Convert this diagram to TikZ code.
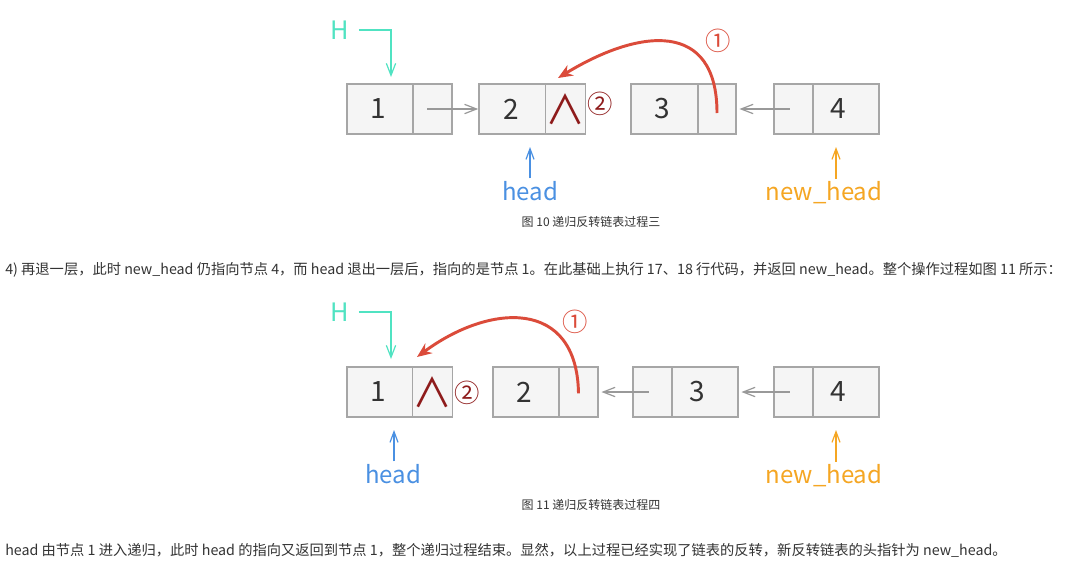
\documentclass[tikz,border=0pt]{standalone}
\usepackage{fontspec}
\setmainfont{Noto Sans CJK SC}
\usetikzlibrary{arrows.meta}
\definecolor{boxfill}{HTML}{F5F5F5}
\definecolor{boxgray}{HTML}{A6A6A6}
\definecolor{digit}{HTML}{333333}
\definecolor{ptrgray}{HTML}{999999}
\definecolor{hteal}{HTML}{50E3C2}
\definecolor{hblue}{HTML}{4A90E2}
\definecolor{horange}{HTML}{F5A623}
\definecolor{cred}{HTML}{DB4B3A}
\definecolor{nilred}{HTML}{8E1B1B}
\definecolor{bodytext}{HTML}{333333}
\tikzset{
  cell/.style={draw=boxgray, fill=boxfill, line width=1.2pt, minimum height=37.5pt, inner sep=0pt, text=digit, font=\fontsize{21}{21}\selectfont},
  nilcell/.style={cell, text=nilred, font=\fontsize{30}{30}\selectfont},
  htxt/.style={inner sep=1pt, text=hteal, font=\fontsize{19}{19}\selectfont},
  headtxt/.style={inner sep=2pt, text=hblue, font=\fontsize{18}{18}\selectfont},
  newheadtxt/.style={inner sep=2pt, text=horange, font=\fontsize{18}{18}\selectfont},
  circone/.style={inner sep=0pt, text=cred, font=\fontsize{19}{19}\selectfont},
  circtwo/.style={inner sep=0pt, text=nilred, font=\fontsize{19}{19}\selectfont},
  ptr/.style={draw=ptrgray, line width=0.9pt, -{Straight Barb[length=9pt,width=7pt]}},
  tealarrow/.style={draw=hteal, line width=0.9pt, -{Straight Barb[length=9pt,width=7pt]}},
  bluearrow/.style={draw=hblue, line width=0.9pt, -{Straight Barb[length=8pt,width=6pt]}},
  orangearrow/.style={draw=horange, line width=0.9pt, -{Straight Barb[length=8pt,width=6pt]}},
  redarrow/.style={draw=cred, line width=2.2pt, -{Stealth[length=11pt,width=9pt]}},
  caption/.style={inner sep=0pt, text=bodytext, font=\fontsize{9}{9}\selectfont},
  para/.style={inner sep=0pt, anchor=west, text=bodytext, font=\fontsize{10.7}{10.7}\selectfont},
}
\begin{document}
\begin{tikzpicture}[x=0.75pt,y=-0.75pt]
\useasboundingbox[fill=white] (0,0) rectangle (1080,568);

% ---------- Figure 10 ----------
\node[cell, minimum width=49.5pt] (a1d) at (380,109) {1\kern3pt};
\node[cell, minimum width=29.25pt] (a1p) at (432.5,109) {};
\node[cell, minimum width=51pt] (a2d) at (513,109) {2\kern3pt};
\node[nilcell, minimum width=27.75pt] (a2p) at (565.5,109) {∧};
\node[cell, minimum width=50.25pt] (a3d) at (664.5,109) {3\kern3pt};
\node[cell, minimum width=28.5pt] (a3p) at (717,109) {};
\node[cell, minimum width=29.25pt] (a4p) at (793.5,109) {};
\node[cell, minimum width=49.5pt] (a4d) at (846,109) {4\kern11pt};

\node[htxt] (aH) at (340,30) {H};
\node[circone] (aone) at (718,41) {①};
\node[circtwo] (atwo) at (600,104) {②};
\node[headtxt] (ahead) at (530,191) {head};
\node[newheadtxt] (anew) at (824,193) {new\_head};

\coordinate (aHend) at (391,77);
\coordinate (aheadend) at (530,147);
\coordinate (anewend) at (836,147);
\coordinate (aRend) at (558,78);

\draw[tealarrow] ([xshift=6pt]aH.east) -| (aHend);
\draw[ptr] ([xshift=-4pt]a1p.center) -- (a2d.west);
\draw[ptr, shorten >=2pt] ([xshift=-3pt]a4p.center) -- (a3p.east);
\draw[redarrow] ([yshift=-3pt]a3p.center) .. controls (717,20) and (640,28) .. (aRend);
\draw[bluearrow] (ahead.north) -- (aheadend);
\draw[orangearrow] (anew.north -| anewend) -- (anewend);

\node[caption] (cap1) at (591,222) {图 10 递归反转链表过程三};
\node[para] (p1) at (5,270) {4) 再退一层，此时 new\_head 仍指向节点 4，而 head 退出一层后，指向的是节点 1。在此基础上执行 17、18 行代码，并返回 new\_head。整个操作过程如图 11 所示：};

% ---------- Figure 11 ----------
\node[cell, minimum width=49.5pt] (b1d) at (380,392) {1\kern3pt};
\node[nilcell, minimum width=29.25pt] (b1p) at (432.5,392) {∧};
\node[cell, minimum width=49.5pt] (b2d) at (526,392) {2\kern3pt};
\node[cell, minimum width=29.25pt] (b2p) at (578.5,392) {};
\node[cell, minimum width=29.25pt] (b3p) at (652.5,392) {};
\node[cell, minimum width=49.5pt] (b3d) at (705,392) {3\kern11pt};
\node[cell, minimum width=29.25pt] (b4p) at (793.5,392) {};
\node[cell, minimum width=49.5pt] (b4d) at (846,392) {4\kern11pt};

\node[htxt] (bH) at (340,312) {H};
\node[circone] (bone) at (575,322) {①};
\node[circtwo] (btwo) at (467,393) {②};
\node[headtxt] (bhead) at (393,474) {head};
\node[newheadtxt] (bnew) at (824,476) {new\_head};

\coordinate (bHend) at (391,359);
\coordinate (bheadend) at (394,430);
\coordinate (bnewend) at (836,430);
\coordinate (bRend) at (417,357);

\draw[tealarrow] ([xshift=6pt]bH.east) -| (bHend);
\draw[ptr, shorten >=2pt] ([xshift=-3pt]b3p.center) -- (b2p.east);
\draw[ptr, shorten >=2pt] ([xshift=-3pt]b4p.center) -- (b3d.east);
\draw[redarrow] ([yshift=-1pt]b2p.center) .. controls (577,298) and (490,303) .. (bRend);
\draw[bluearrow] (bhead.north -| bheadend) -- (bheadend);
\draw[orangearrow] (bnew.north -| bnewend) -- (bnewend);

\node[caption] (cap2) at (591,505) {图 11 递归反转链表过程四};
\node[para] (p2) at (5,550) {head 由节点 1 进入递归，此时 head 的指向又返回到节点 1，整个递归过程结束。显然，以上过程已经实现了链表的反转，新反转链表的头指针为 new\_head。};
\end{tikzpicture}
\end{document}
